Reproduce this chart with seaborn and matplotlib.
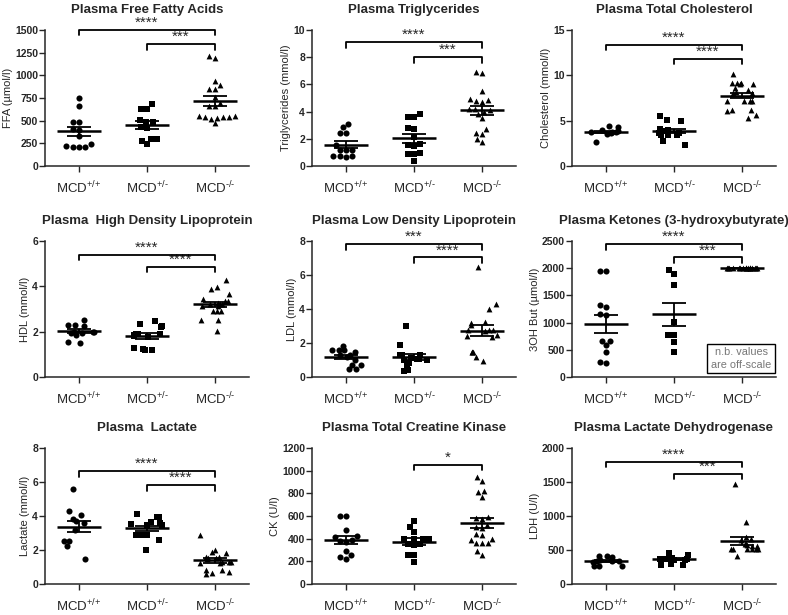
import numpy as np
import matplotlib
matplotlib.use('Agg')
import matplotlib.pyplot as plt
import seaborn as sns

groups = ['MCD+/+', 'MCD+/-', 'MCD-/-']
group_labels = ['MCD$^{{+}/{+}}$', 'MCD$^{{+}/\u2010}$', 'MCD$^{\u2010/\u2010}$']

# plasma free fatty acids (umol/l)
ffa_wt = [745, 660, 480, 480, 410, 400, 330, 245, 205, 205, 210, 220]
ffa_het = [634, 634, 682, 505, 487, 487, 431, 420, 295, 240, 276, 302]
ffa_ko = [1210, 1190, 940, 890, 850, 850, 760, 690, 660, 660, 550, 550, 540, 540, 530, 520, 470, 540]

# triglycerides (mmol/l)
tg_wt = [3.1, 2.85, 2.45, 2.45, 1.55, 1.2, 1.2, 1.15, 0.7, 0.7, 0.65, 0.7]
tg_het = [3.8, 3.6, 3.6, 2.8, 2.7, 2.15, 1.65, 1.55, 1.5, 0.95, 0.85, 0.85, 0.37]
tg_ko = [6.9, 6.85, 5.5, 4.85, 4.75, 4.7, 4.9, 4.2, 4.2, 4.1, 4.0, 3.85, 3.5, 2.7, 2.45, 2.35, 1.75, 1.95]

# total cholesterol (mmol/l)
chol_wt = [4.4, 4.35, 3.85, 3.75, 3.7, 3.75, 3.95, 3.55, 3.6, 2.7]
chol_het = [5.5, 5.05, 5.0, 3.65, 3.85, 4.05, 4.0, 3.65, 3.4, 3.4, 3.45, 2.35, 2.75]
chol_ko = [10.1, 9.1, 9.0, 9.0, 9.1, 9.2, 8.6, 8.4, 8.1, 8.1, 7.2, 7.2, 7.2, 7.2, 6.2, 6.1, 6.2, 5.6, 5.3, 8.2]

# HDL (mmol/l)
hdl_wt = [2.5, 2.3, 2.25, 2.3, 2.0, 2.0, 2.0, 1.95, 1.95, 1.85, 1.55, 1.5]
hdl_het = [2.35, 2.2, 2.45, 2.25, 1.9, 1.9, 1.9, 1.85, 1.8, 1.75, 1.3, 1.25, 1.2, 1.2]
hdl_ko = [4.3, 3.9, 3.95, 3.65, 3.2, 3.35, 3.45, 3.35, 3.25, 3.15, 3.15, 3.2, 3.2, 2.9, 2.9, 2.9, 2.5, 2.5, 2.05]

# LDL (mmol/l)
ldl_wt = [1.8, 1.6, 1.5, 1.6, 1.6, 1.3, 1.2, 1.3, 1.0, 0.7, 0.7, 0.5, 0.5]
ldl_het = [3.0, 1.9, 1.3, 1.3, 1.3, 1.05, 1.0, 1.05, 1.0, 1.1, 0.8, 0.7, 0.35, 0.4]
ldl_ko = [6.5, 4.3, 4.0, 3.25, 3.2, 3.05, 2.75, 2.75, 2.7, 2.75, 2.4, 2.45, 2.35, 1.5, 1.5, 1.5, 1.15, 0.95]

# 3-hydroxybutyrate (umol/l), knockout values off-scale at 2000
ket_wt = [1940, 1940, 1330, 1280, 1150, 1140, 670, 670, 580, 460, 250, 280]
ket_het = [1970, 1890, 1700, 1010, 780, 780, 640, 460]
ket_ko = [2000] * 18

# lactate (mmol/l)
lac_wt = [5.6, 4.3, 3.85, 3.6, 4.05, 3.7, 3.2, 2.55, 2.55, 2.25, 1.5]
lac_het = [3.95, 4.1, 3.95, 3.45, 3.45, 3.55, 3.6, 3.65, 2.9, 2.9, 2.9, 2.9, 2.6, 2.0]
lac_ko = [2.9, 2.0, 1.85, 1.9, 1.6, 1.55, 1.55, 1.6, 1.45, 1.3, 1.25, 1.25, 1.3, 1.3, 0.8, 0.65, 0.6, 0.7, 0.8]

# creatine kinase (U/l)
ck_wt = [600, 600, 475, 420, 385, 380, 415, 370, 260, 225, 235, 290]
ck_het = [560, 500, 460, 400, 395, 395, 400, 350, 340, 350, 260, 255, 190]
ck_ko = [940, 910, 820, 810, 770, 580, 590, 570, 520, 500, 490, 440, 430, 390, 360, 360, 360, 400, 260, 290]

# lactate dehydrogenase (U/l)
ldh_wt = [410, 395, 405, 350, 340, 345, 345, 350, 270, 265, 270, 330]
ldh_het = [460, 430, 430, 370, 360, 370, 370, 355, 280, 285, 300, 380]
ldh_ko = [1470, 910, 690, 660, 650, 510, 510, 520, 510, 510, 590, 590, 580, 560, 410, 560, 520]

sns.set_style('ticks')
plt.rcParams['font.family'] = ['Liberation Sans', 'DejaVu Sans']
plt.rcParams['mathtext.default'] = 'regular'

# last field: draw as a swarm (sparse panels) or as a jittered strip (dense panels)
panels = [
    ('Plasma Free Fatty Acids', 'FFA (µmol/l)', [ffa_wt, ffa_het, ffa_ko], 1500, 250,
     [(0, 2, 1.0, '****'), (1, 2, 0.895, '***')], True),
    ('Plasma Triglycerides', 'Triglycerides (mmol/l)', [tg_wt, tg_het, tg_ko], 10, 2,
     [(0, 2, 0.91, '****'), (1, 2, 0.80, '***')], True),
    ('Plasma Total Cholesterol', 'Cholesterol (mmol/l)', [chol_wt, chol_het, chol_ko], 15, 5,
     [(0, 2, 0.89, '****'), (1, 2, 0.79, '****')], False),
    ('Plasma  High Density Lipoprotein', 'HDL (mmol/l)', [hdl_wt, hdl_het, hdl_ko], 6, 2,
     [(0, 2, 0.90, '****'), (1, 2, 0.81, '****')], False),
    ('Plasma Low Density Lipoprotein', 'LDL (mmol/l)', [ldl_wt, ldl_het, ldl_ko], 8, 2,
     [(0, 2, 0.976, '***'), (1, 2, 0.88, '****')], False),
    ('Plasma Ketones (3-hydroxybutyrate)', '3OH But (µmol/l)', [ket_wt, ket_het, ket_ko], 2500, 500,
     [(0, 2, 0.976, '****'), (1, 2, 0.88, '***')], True),
    ('Plasma  Lactate', 'Lactate (mmol/l)', [lac_wt, lac_het, lac_ko], 8, 2,
     [(0, 2, 0.83, '****'), (1, 2, 0.726, '****')], False),
    ('Plasma Total Creatine Kinase', 'CK (U/l)', [ck_wt, ck_het, ck_ko], 1200, 200,
     [(1, 2, 0.875, '*')], True),
    ('Plasma Lactate Dehydrogenase', 'LDH (U/l)', [ldh_wt, ldh_het, ldh_ko], 2000, 500,
     [(0, 2, 0.90, '****'), (1, 2, 0.81, '***')], False),
]

markers = ['o', 's', '^']
W, H = 788, 615
col_left = [45, 312, 572]
row_top = [30, 241, 448]

fig = plt.figure(figsize=(7.88, 6.15), dpi=100)

for k, (title, ylabel, data, ymax, step, brackets, swarm) in enumerate(panels):
    r, c = divmod(k, 3)
    ax = fig.add_axes([col_left[c] / W, 1 - (row_top[r] + 136) / H, 204 / W, 136 / H])
    for i, vals in enumerate(data):
        xs = [groups[i]] * len(vals)
        size = 4.4 if i < 2 else 4.2
        if swarm and len(set(vals)) > 1:
            sns.swarmplot(x=xs, y=vals, order=groups, marker=markers[i], color='black',
                          size=size, linewidth=0, ax=ax, warn_thresh=1)
        else:
            np.random.seed(10 * k + i)
            sns.stripplot(x=xs, y=vals, order=groups, marker=markers[i], color='black',
                          size=size, linewidth=0, jitter=0.23, ax=ax)
        m = np.mean(vals)
        se = np.std(vals, ddof=1) / np.sqrt(len(vals))
        ax.hlines(m, i - 0.33, i + 0.33, color='black', lw=1.8, zorder=4)
        ax.hlines([m - se, m + se], i - 0.18, i + 0.18, color='black', lw=1.3, zorder=4)
        ax.vlines(i, m - se, m + se, color='black', lw=1.3, zorder=4)

    for x0, x1, frac, stars in brackets:
        y = frac * ymax
        h = 0.04 * ymax
        ax.plot([x0, x0, x1, x1], [y - h, y, y, y - h], color='black', lw=1.3,
                clip_on=False, zorder=5)
        ax.text((x0 + x1) / 2, y, stars, ha='center', va='bottom', fontsize=11)

    ax.set_xlim(-0.5, 2.5)
    ax.set_ylim(0, ymax)
    ax.set_yticks(np.arange(0, ymax + step / 2, step))
    ax.set_xticks([0, 1, 2])
    ax.set_xticklabels(group_labels, fontsize=9.5)
    ax.set_xlabel('')
    ax.set_ylabel(ylabel, fontsize=8, labelpad=1.5)
    ax.set_title(title, fontsize=9.5, fontweight='bold', pad=12)
    ax.tick_params(axis='y', length=4, width=1, labelsize=7.5, pad=1)
    ax.tick_params(axis='x', length=4, width=1, pad=6)
    for lbl in ax.get_yticklabels():
        lbl.set_fontweight('bold')
    for s in ['left', 'bottom']:
        ax.spines[s].set_linewidth(1.1)
    sns.despine(ax=ax)

    if k == 5:
        ax.text(0.83, 0.136, 'n.b. values\nare off-scale', transform=ax.transAxes,
                ha='center', va='center', fontsize=7.8, color='#777777', linespacing=1.3,
                bbox=dict(boxstyle='square,pad=0.35', facecolor='white', edgecolor='black', lw=1))

fig.savefig('out.png', dpi=100)
